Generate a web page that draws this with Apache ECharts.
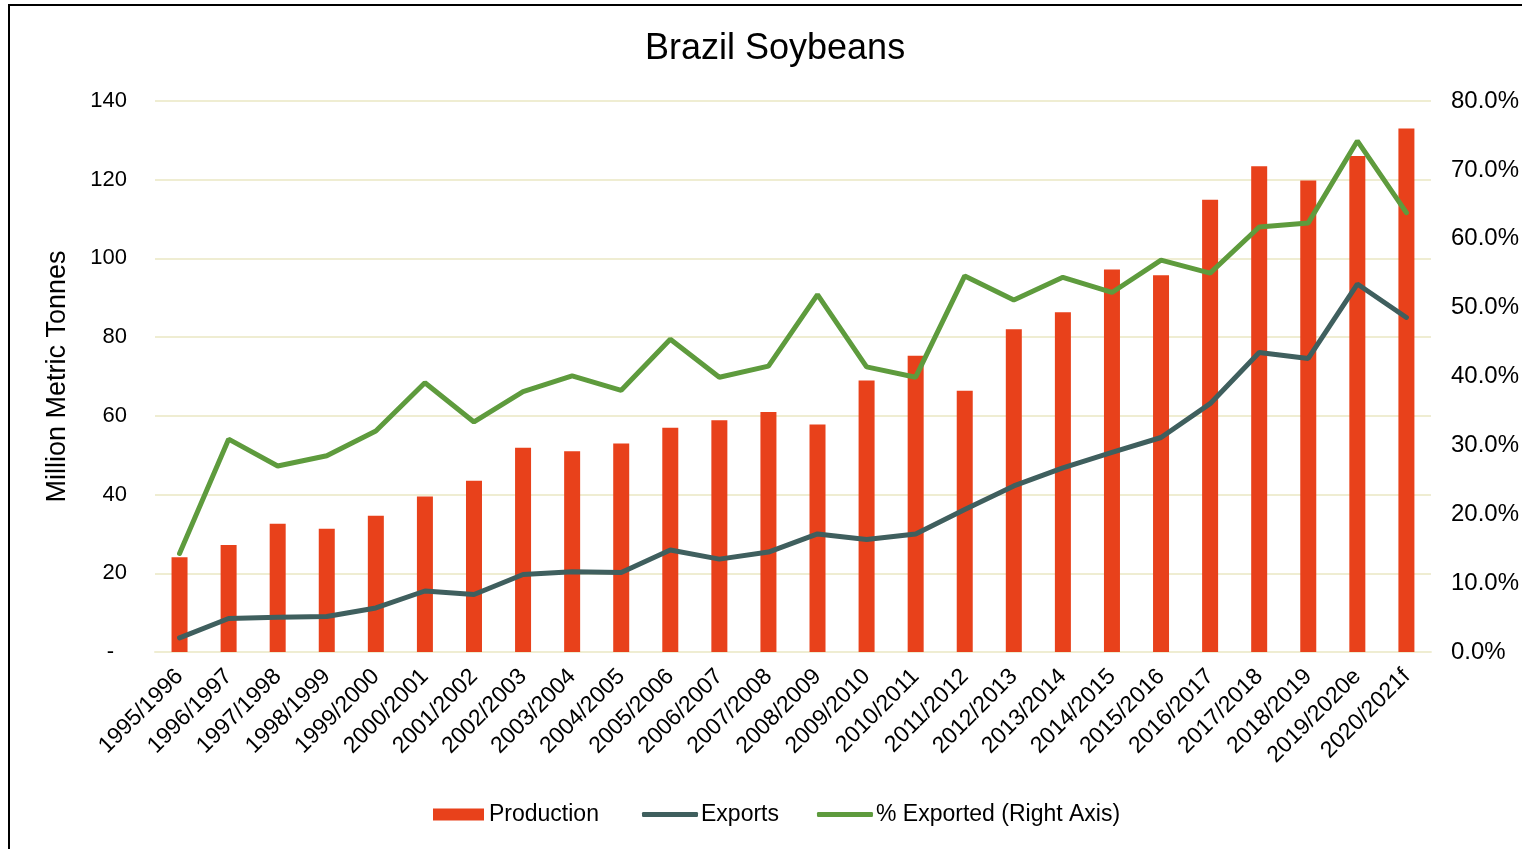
<!DOCTYPE html>
<html>
<head>
<meta charset="utf-8">
<script src="https://cdn.jsdelivr.net/npm/echarts@6/dist/echarts.min.js"></script>
<style>
html,body{margin:0;padding:0;background:#fff;}
#chart{width:1522px;height:849px;}
</style>
</head>
<body>
<div id="chart"></div>
<script>
const categories = ['1995/1996','1996/1997','1997/1998','1998/1999','1999/2000','2000/2001','2001/2002','2002/2003','2003/2004','2004/2005','2005/2006','2006/2007','2007/2008','2008/2009','2009/2010','2010/2011','2011/2012','2012/2013','2013/2014','2014/2015','2015/2016','2016/2017','2017/2018','2018/2019','2019/2020e','2020/2021f'];
const production = [24.1,27.2,32.6,31.3,34.6,39.5,43.5,51.9,51.0,53.0,57.0,58.9,61.0,57.8,69.0,75.3,66.4,82.0,86.3,97.2,95.7,114.9,123.4,119.8,126.0,133.0];
const exportsData = [3.6,8.5,8.8,9.0,11.2,15.5,14.6,19.7,20.4,20.2,25.9,23.6,25.4,30.0,28.6,30.0,36.2,42.2,46.8,50.7,54.5,63.1,76.1,74.6,93.5,85.0];
const pctExported = [14.3,30.9,27.0,28.5,32.1,39.1,33.4,37.8,40.1,38.0,45.4,39.9,41.5,51.9,41.4,39.9,54.6,51.1,54.4,52.2,56.9,55.0,61.7,62.3,74.2,63.8];
const leftTicks = {min:0, max:140, interval:20};
const rightTicks = {min:0, max:80, interval:10};

const chart = echarts.init(document.getElementById('chart'));
const font = 'Liberation Sans, Arial, sans-serif';
chart.setOption({
  animation:false,
  backgroundColor:'#fff',
  graphic:[{type:'rect',shape:{x:9,y:5,width:1600,height:900},style:{fill:'none',stroke:'#000',lineWidth:2},z:100}],
  title:{text:'Brazil Soybeans',left:640,top:26,textStyle:{fontFamily:font,fontSize:36,fontWeight:'normal',color:'#000'}},
  grid:{left:155,right:90,top:101,bottom:197,containLabel:false},
  legend:[
    {left:428,top:798,itemWidth:51,itemHeight:12,
      textStyle:{fontFamily:font,fontSize:23,color:'#000'},
      data:[{name:'Production',icon:'rect'}]},
    {left:637,top:798,itemWidth:56,itemHeight:5,itemGap:38,icon:'roundRect',
      textStyle:{fontFamily:font,fontSize:23,color:'#000',padding:[0,0,0,-2]},
      data:['Exports','% Exported (Right Axis)']}
  ],
  xAxis:{type:'category',data:categories,boundaryGap:true,
    axisLine:{show:true,lineStyle:{color:'#EFEDD2',width:2}},axisTick:{show:false},
    axisLabel:{interval:0,rotate:45,fontFamily:font,fontSize:23,color:'#000',margin:21}},
  yAxis:[{type:'value',min:leftTicks.min,max:leftTicks.max,interval:leftTicks.interval,
      name:'Million Metric Tonnes',nameLocation:'middle',nameGap:84,nameRotate:90,
      nameTextStyle:{fontFamily:font,fontSize:27,color:'#000'},
      axisLine:{show:false},axisTick:{show:false},
      splitLine:{show:true,lineStyle:{color:'#EFEDD2',width:2}},
      axisLabel:{fontFamily:font,fontSize:22,color:'#000',margin:28,
        formatter:v=>v===0?'{d|-}':String(v),
        rich:{d:{fontFamily:font,fontSize:22,color:'#000',padding:[0,13,0,0]}}}},
    {type:'value',min:rightTicks.min,max:rightTicks.max,interval:rightTicks.interval,position:'right',
      axisLine:{show:false},axisTick:{show:false},splitLine:{show:false},
      axisLabel:{fontFamily:font,fontSize:24,color:'#000',margin:20,formatter:v=>v.toFixed(1)+'%'}}],
  series:[
    {name:'Production',type:'bar',data:production,barWidth:16,itemStyle:{color:'#E8411B'},z:1},
    {name:'Exports',type:'line',data:exportsData,symbol:'none',lineStyle:{color:'#3F5F5E',width:5,cap:'round'},itemStyle:{color:'#3F5F5E'},z:3},
    {name:'% Exported (Right Axis)',type:'line',yAxisIndex:1,data:pctExported,symbol:'none',lineStyle:{color:'#5E9B3D',width:5,cap:'round'},itemStyle:{color:'#5E9B3D'},z:4}
  ]
});
</script>
</body>
</html>
